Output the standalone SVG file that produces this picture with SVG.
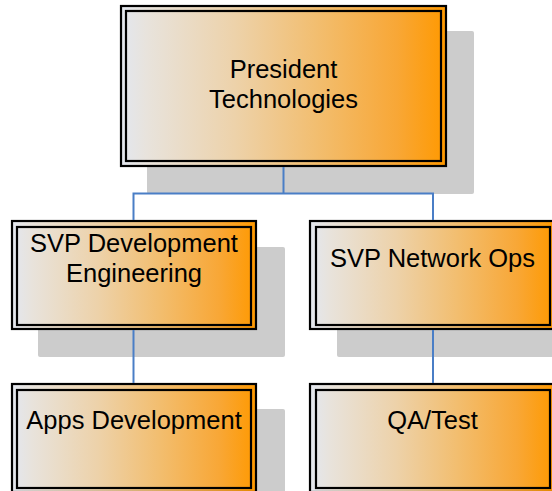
<svg xmlns="http://www.w3.org/2000/svg" width="552" height="491" viewBox="0 0 552 491">
<style>
.shadow{fill:#CCCCCC}
.box{fill:url(#grad);stroke:#000;stroke-width:2.2}
.inner{fill:none;stroke:#000;stroke-width:2.2}
.lbl{font-family:"Liberation Sans",Arial,sans-serif;font-size:25.5px;fill:#000;text-anchor:middle}
.conn{fill:none;stroke:#4A7EC6;stroke-width:2}
</style>
<defs>
<linearGradient id="grad" x1="0" y1="0" x2="1" y2="0">
<stop offset="0" stop-color="#E3E7EF"/>
<stop offset="0.08" stop-color="#E8E3DC"/>
<stop offset="0.35" stop-color="#EDD2AA"/>
<stop offset="0.6" stop-color="#F2BE70"/>
<stop offset="0.85" stop-color="#F8A736"/>
<stop offset="1" stop-color="#FF9900"/>
</linearGradient>
</defs>
<rect width="552" height="491" fill="#FFFFFF"/>
<g id="node-president">
<rect class="shadow" x="147" y="31" width="327" height="163" rx="2"/>
<rect class="box" x="121" y="6" width="325" height="160"/>
<rect class="inner" x="126" y="11" width="315" height="150"/>
<text class="lbl" x="283.5" y="78">President</text>
<text class="lbl" x="283.5" y="108">Technologies</text>
</g>
<g id="node-svp-dev">
<rect class="shadow" x="38" y="247" width="247" height="110" rx="2"/>
<rect class="box" x="12" y="221" width="244" height="108"/>
<rect class="inner" x="17" y="227" width="234" height="98"/>
<text class="lbl" x="134" y="252">SVP Development</text>
<text class="lbl" x="134" y="282">Engineering</text>
</g>
<g id="node-svp-net">
<rect class="shadow" x="337" y="247" width="247" height="110" rx="2"/>
<rect class="box" x="310" y="221" width="244" height="108"/>
<rect class="inner" x="316" y="227" width="234" height="98"/>
<text class="lbl" x="432.5" y="267">SVP Network Ops</text>
</g>
<g id="node-apps">
<rect class="shadow" x="38" y="409" width="247" height="110" rx="2"/>
<rect class="box" x="12" y="384" width="244" height="108"/>
<rect class="inner" x="17" y="390" width="234" height="98"/>
<text class="lbl" x="134" y="428.5">Apps Development</text>
</g>
<g id="node-qa">
<rect class="shadow" x="337" y="409" width="247" height="110" rx="2"/>
<rect class="box" x="310" y="384" width="244" height="108"/>
<rect class="inner" x="316" y="390" width="234" height="98"/>
<text class="lbl" x="432.5" y="428.5">QA/Test</text>
</g>
<g id="connectors">
<path class="conn" d="M283.5 167 V193.5 M133.5 193.5 H433 M133.5 192.5 V220 M433 192.5 V220"/>
<path class="conn" d="M133.5 330 V383"/>
<path class="conn" d="M433 330 V383"/>
</g>
</svg>
